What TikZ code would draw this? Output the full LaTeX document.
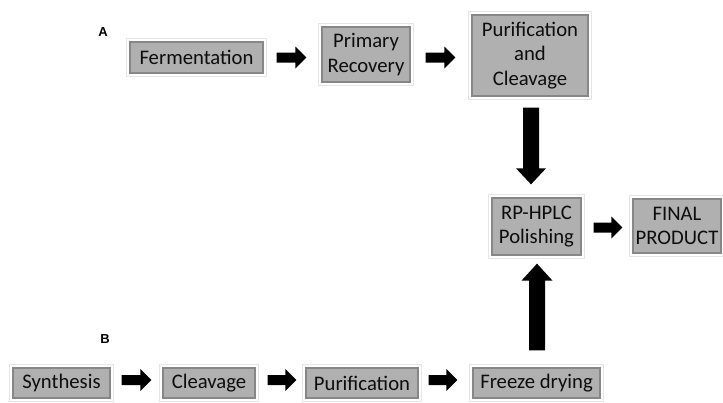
\documentclass[tikz,border=0pt]{standalone}
\usepackage{fontspec}
\setmainfont{Carlito}
\newfontfamily\labelfont{Liberation Sans}
\usetikzlibrary{calc}
\definecolor{boxfill}{RGB}{176,176,176}
\definecolor{boxline}{RGB}{135,135,135}
\tikzset{
  stepbox/.style={draw=boxline, fill=boxfill, line width=1.3pt, inner sep=0pt,
    align=center, font=\fontsize{20.7}{24.5}\selectfont, text=black!95,
    preaction={draw=black!10, line width=8pt},
    preaction={draw=white, line width=6pt}},
  panellabel/.style={font=\labelfont\bfseries\fontsize{13}{15}\selectfont, inner sep=0pt},
  blockfill/.style={fill=black}
}
% horizontal block arrow: start coordinate, tip coordinate
\newcommand\rarrow[2]{%
  \fill[blockfill] let \p1=(#1), \p2=(#2) in
    (\x1,\y1+5pt) -- (\x2-11pt,\y1+5pt) -- (\x2-11pt,\y1+11pt) -- (\x2,\y1)
    -- (\x2-11pt,\y1-11pt) -- (\x2-11pt,\y1-5pt) -- (\x1,\y1-5pt) -- cycle;}
% downward block arrow
\newcommand\darrow[2]{%
  \fill[blockfill] let \p1=(#1), \p2=(#2) in
    (\x1-8pt,\y1) -- (\x1-8pt,\y2+16pt) -- (\x1-15pt,\y2+16pt) -- (\x1,\y2)
    -- (\x1+15pt,\y2+16pt) -- (\x1+8pt,\y2+16pt) -- (\x1+8pt,\y1) -- cycle;}
% upward block arrow
\newcommand\uarrow[2]{%
  \fill[blockfill] let \p1=(#1), \p2=(#2) in
    (\x1-8pt,\y1) -- (\x1-8pt,\y2-17pt) -- (\x1-15.5pt,\y2-17pt) -- (\x1,\y2)
    -- (\x1+15.5pt,\y2-17pt) -- (\x1+8pt,\y2-17pt) -- (\x1+8pt,\y1) -- cycle;}
\begin{document}
\begin{tikzpicture}[x=1pt,y=-1pt]
\useasboundingbox[fill=white] (0,0) rectangle (723,402);

\node[panellabel] (labA) at (103,32) {A};
\node[panellabel] (labB) at (105,339) {B};

% row A
\node[stepbox, minimum width=133pt, minimum height=31pt] (ferm) at (196.5,57.5) {Fermentation};
\node[stepbox, minimum width=88pt, minimum height=55pt] (prim) at (366,54.5) {Primary\\Recovery};
\node[stepbox, minimum width=116pt, minimum height=81pt] (purclv) at (530,55.5) {Purification\\and\\Cleavage};

% centre
\node[stepbox, minimum width=89pt, minimum height=57pt] (rphplc) at (536.5,226.5) {RP-HPLC\\Polishing};
\node[stepbox, minimum width=88pt, minimum height=54pt] (final) at (677,226) {FINAL\\PRODUCT};

% row B
\node[stepbox, minimum width=97pt, minimum height=30pt] (synth) at (61.5,383) {Synthesis};
\node[stepbox, minimum width=92pt, minimum height=30pt] (cleav) at (209,383) {Cleavage};
\node[stepbox, minimum width=112pt, minimum height=30pt] (purif) at (362,383) {Purification};
\node[stepbox, minimum width=127pt, minimum height=30pt] (freeze) at (536.5,383) {Freeze drying};

% connectors row A
\rarrow{$(ferm.east)+(13,0)$}{$(ferm.east -| prim.west)+(-15,0)$}
\rarrow{$(prim.east |- ferm.east)+(15,0)$}{$(ferm.east -| purclv.west)+(-16,0)$}
\darrow{$(purclv.south)+(1,11)$}{$(purclv.south |- rphplc.north)+(1,-13)$}
\rarrow{$(rphplc.east)+(12,1)$}{$(rphplc.east -| final.west)+(-10,1)$}
\uarrow{$(freeze.north)+(0.5,-17)$}{$(freeze.north |- rphplc.south)+(0.5,8)$}

% connectors row B
\rarrow{$(synth.east)+(11,-3)$}{$(synth.east -| cleav.west)+(-11,-3)$}
\rarrow{$(cleav.east)+(12,-3)$}{$(cleav.east -| purif.west)+(-9,-3)$}
\rarrow{$(purif.east)+(10,-3)$}{$(purif.east -| freeze.west)+(-15,-3)$}
\end{tikzpicture}
\end{document}
